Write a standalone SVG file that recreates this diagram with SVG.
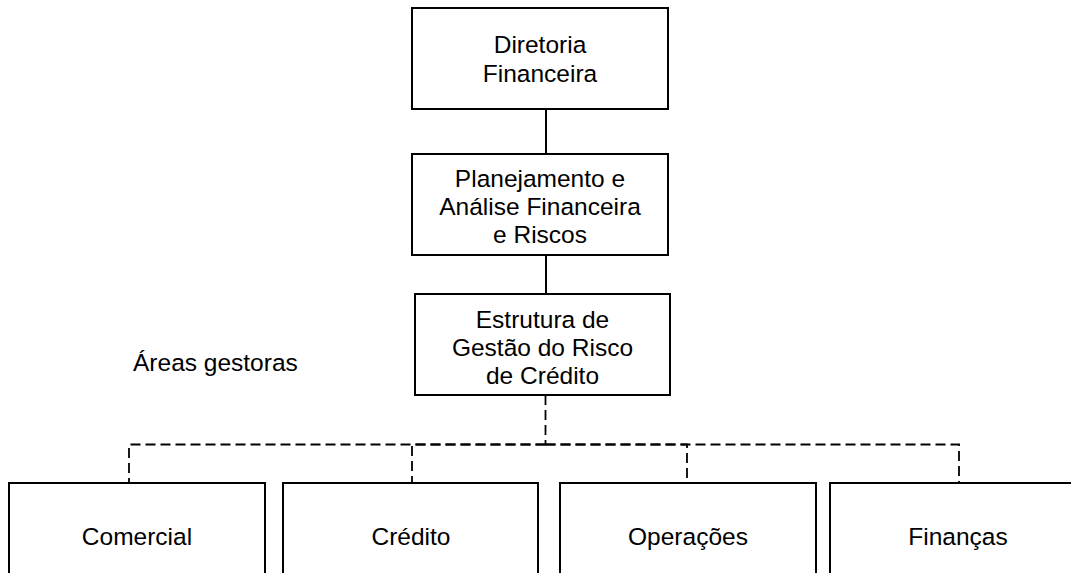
<svg xmlns="http://www.w3.org/2000/svg" width="1071" height="573" viewBox="0 0 1071 573">
<style>
.box{fill:#fff;stroke:#000;stroke-width:2}
.t{font-family:"Liberation Sans",Arial,sans-serif;font-size:24.5px;fill:#000;text-anchor:middle}
.solid{stroke:#000;stroke-width:2;fill:none}
.dash{stroke:#000;stroke-width:1.8;fill:none;stroke-dasharray:10 5}
</style>
<rect width="1071" height="573" fill="#fff"/>
<g id="connectors">
<line class="solid" x1="546" y1="109" x2="546" y2="154"/>
<line class="solid" x1="546" y1="255" x2="546" y2="294"/>
<path class="dash" d="M545.5 395 V444.5"/>
<path class="dash" d="M545.5 444.5 H129 V483"/>
<path class="dash" d="M545.5 444.5 H412 V483"/>
<path class="dash" d="M545.5 444.5 H687 V483"/>
<path class="dash" d="M545.5 444.5 H959 V483"/>
</g>
<g id="n1">
<rect class="box" x="412" y="8" width="256" height="101"/>
<text class="t" x="540" y="53">Diretoria</text>
<text class="t" x="540" y="82">Financeira</text>
</g>
<g id="n2">
<rect class="box" x="412" y="154" width="256" height="101"/>
<text class="t" x="540" y="187">Planejamento e</text>
<text class="t" x="540" y="215">Análise Financeira</text>
<text class="t" x="540" y="243">e Riscos</text>
</g>
<g id="n3">
<rect class="box" x="415" y="294" width="255" height="101"/>
<text class="t" x="542.5" y="328">Estrutura de</text>
<text class="t" x="542.5" y="356">Gestão do Risco</text>
<text class="t" x="542.5" y="384">de Crédito</text>
</g>
<g id="label">
<text class="t" x="133" y="371" style="text-anchor:start">Áreas gestoras</text>
</g>
<g id="n4">
<rect class="box" x="9" y="483" width="256" height="110"/>
<text class="t" x="137" y="545">Comercial</text>
</g>
<g id="n5">
<rect class="box" x="283" y="483" width="255" height="110"/>
<text class="t" x="411" y="545">Crédito</text>
</g>
<g id="n6">
<rect class="box" x="560" y="483" width="256" height="110"/>
<text class="t" x="688" y="545">Operações</text>
</g>
<g id="n7">
<rect class="box" x="830" y="483" width="256" height="110"/>
<text class="t" x="958" y="545">Finanças</text>
</g>
</svg>
